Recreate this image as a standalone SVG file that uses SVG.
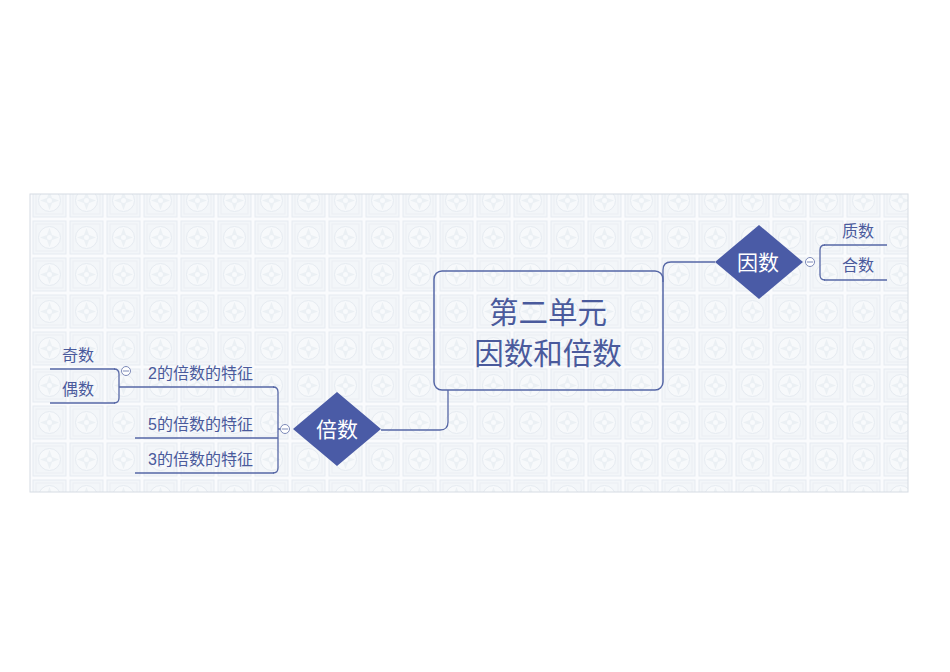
<svg xmlns="http://www.w3.org/2000/svg" width="950" height="672" viewBox="0 0 950 672">
<style>
.t{font-family:"Liberation Sans","Noto Sans CJK SC",sans-serif;fill:#4a5a9c}
.s{font-size:16px}
.w{fill:#ffffff;font-size:21px}
.ln{fill:none;stroke:#5667a6;stroke-width:1.3}
.dm{fill:#4a5ba6}
.cc{fill:#ffffff;stroke:#7d8ab8;stroke-width:1}
.mn{stroke:#7d8ab8;stroke-width:1}
</style>
<defs>
<pattern id="tile" patternUnits="userSpaceOnUse" x="32" y="183" width="37" height="37">
<rect x="0" y="0" width="37" height="37" fill="#fafbfd"/>
<rect x="1" y="1" width="33" height="33" fill="#f3f6f9" stroke="#e6ebf1" stroke-width="1"/>
<rect x="4" y="4" width="27" height="27" fill="none" stroke="#ebeff4" stroke-width="1"/>
<circle cx="17.5" cy="17.5" r="11" fill="#f7f9fb" stroke="#e6ebf1" stroke-width="1"/>
<path d="M17.5,8 L20,15 L27,17.5 L20,20 L17.5,27 L15,20 L8,17.5 L15,15 Z" fill="#ebf0f4"/>
<circle cx="17.5" cy="17.5" r="2.5" fill="#f8fafc"/>
</pattern>
</defs>
<rect x="0" y="0" width="950" height="672" fill="#ffffff"/>
<rect x="30" y="194" width="878" height="298" fill="url(#tile)" stroke="#d6dce3" stroke-width="1"/>

<g id="connectors">
<path class="ln" d="M448,390 V422 Q448,430 440,430 H381"/>
<path class="ln" d="M663,282 V270 Q663,262 671,262 H715"/>
<path class="ln" d="M280,429 H278"/>
<path class="ln" d="M273,387 Q278,387 278,392 V468 Q278,473 273,473"/>
<path class="ln" d="M114,369 Q119,369 119,374 V398 Q119,403 114,403"/>
<path class="ln" d="M825,245 Q820,245 820,250 V275 Q820,280 825,280"/>
<path class="ln" d="M805,262 H815"/>
</g>

<g id="root">
<rect x="434" y="271" width="229" height="119" rx="8" fill="none" stroke="#5667a6" stroke-width="1.5"/>
<text class="t" x="548" y="323" font-size="29.5" text-anchor="middle">第二单元</text>
<text class="t" x="548" y="364" font-size="29.5" text-anchor="middle">因数和倍数</text>
</g>

<g id="beishu">
<polygon class="dm" points="337,392 381,429 337,466 293,429"/>
<text class="t w" x="337" y="437" text-anchor="middle">倍数</text>
<circle class="cc" cx="285" cy="429" r="4.5"/>
<line class="mn" x1="282" y1="429" x2="288" y2="429"/>
</g>

<g id="yinshu">
<polygon class="dm" points="759,225 803,262 759,299 715,262"/>
<text class="t w" x="758" y="270" text-anchor="middle">因数</text>
<circle class="cc" cx="810" cy="262" r="4.5"/>
<line class="mn" x1="807" y1="262" x2="813" y2="262"/>
</g>

<g id="feature2">
<line class="ln" x1="119" y1="387" x2="274" y2="387"/>
<text class="t s" x="148" y="379">2的倍数的特征</text>
<circle class="cc" cx="126" cy="371" r="4.5"/>
<line class="mn" x1="123" y1="371" x2="129" y2="371"/>
</g>

<g id="feature5">
<line class="ln" x1="135" y1="438" x2="278" y2="438"/>
<text class="t s" x="148" y="430">5的倍数的特征</text>
</g>

<g id="feature3">
<line class="ln" x1="135" y1="473" x2="274" y2="473"/>
<text class="t s" x="148" y="465">3的倍数的特征</text>
</g>

<g id="jishu">
<line class="ln" x1="50" y1="369" x2="115" y2="369"/>
<text class="t s" x="62" y="361">奇数</text>
</g>

<g id="oushu">
<line class="ln" x1="50" y1="403" x2="115" y2="403"/>
<text class="t s" x="62" y="395">偶数</text>
</g>

<g id="zhishu">
<line class="ln" x1="824" y1="245" x2="887" y2="245"/>
<text class="t s" x="842" y="237">质数</text>
</g>

<g id="heshu">
<line class="ln" x1="824" y1="280" x2="887" y2="280"/>
<text class="t s" x="842" y="271">合数</text>
</g>
</svg>
